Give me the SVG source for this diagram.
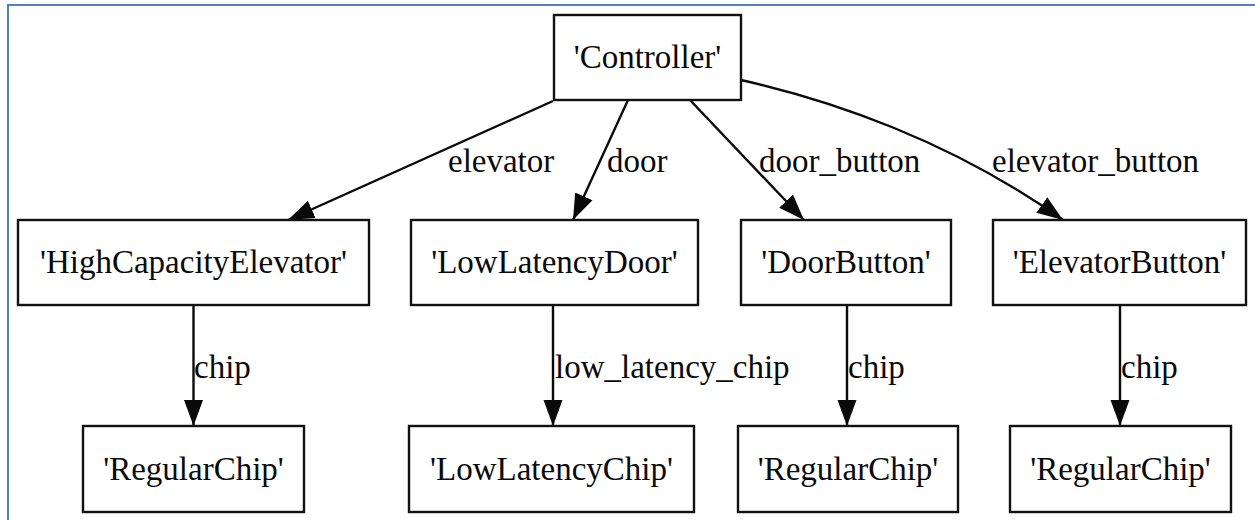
<svg xmlns="http://www.w3.org/2000/svg" width="1255" height="520" viewBox="0 0 1255 520">
  <style>
    .node rect { fill: #ffffff; stroke: #111111; stroke-width: 2.4; }
    .node text { font-family: "Liberation Serif", "Times New Roman", serif; font-size: 33px; fill: #0a0a0a; text-anchor: middle; }
    .edge { fill: none; stroke: #0a0a0a; stroke-width: 2.4; marker-end: url(#arrow); }
    .label { font-family: "Liberation Serif", "Times New Roman", serif; font-size: 33px; fill: #0a0a0a; }
    .frame { fill: none; stroke: #4f81bd; stroke-width: 2; }
  </style>
  <defs>
    <marker id="arrow" markerUnits="userSpaceOnUse" markerWidth="28" markerHeight="22" refX="26" refY="10" orient="auto">
      <path d="M0,0.5 L26,10 L0,19.5 Z" fill="#0a0a0a"/>
    </marker>
  </defs>

  <rect width="1255" height="520" fill="#ffffff"/>
  <!-- frame edge on the left and top -->
  <path class="frame" d="M8,520 V5 H1255"/>

  <!-- connectors -->
  <g id="connectors">
    <path class="edge" d="M553,101 L288,220"/>
    <path class="edge" d="M628,100 L573,220"/>
    <path class="edge" d="M690,100 L804,220"/>
    <path class="edge" d="M741,80 C830,100 950,140 1063,220"/>
    <path class="edge" d="M193.5,305 V426"/>
    <path class="edge" d="M553,305 V426"/>
    <path class="edge" d="M847,305 V426"/>
    <path class="edge" d="M1120,305 V426"/>

    <text class="label" x="448" y="172">elevator</text>
    <text class="label" x="607" y="172">door</text>
    <text class="label" x="759" y="172">door_button</text>
    <text class="label" x="992" y="172">elevator_button</text>
    <text class="label" x="194" y="378">chip</text>
    <text class="label" x="555" y="378">low_latency_chip</text>
    <text class="label" x="848" y="378">chip</text>
    <text class="label" x="1121" y="378">chip</text>
  </g>

  <!-- top level -->
  <g id="controller" class="node">
    <rect x="554" y="15" width="187" height="85"/>
    <text x="647.5" y="68">'Controller'</text>
  </g>

  <!-- second level -->
  <g id="high-capacity-elevator" class="node">
    <rect x="18" y="220" width="351" height="85"/>
    <text x="193.5" y="273">'HighCapacityElevator'</text>
  </g>
  <g id="low-latency-door" class="node">
    <rect x="411" y="220" width="287" height="85"/>
    <text x="554.5" y="273">'LowLatencyDoor'</text>
  </g>
  <g id="door-button" class="node">
    <rect x="741" y="220" width="210" height="85"/>
    <text x="846" y="273">'DoorButton'</text>
  </g>
  <g id="elevator-button" class="node">
    <rect x="993" y="220" width="253" height="85"/>
    <text x="1119.5" y="273">'ElevatorButton'</text>
  </g>

  <!-- third level -->
  <g id="regular-chip-1" class="node">
    <rect x="83" y="426" width="221" height="86"/>
    <text x="193.5" y="480">'RegularChip'</text>
  </g>
  <g id="low-latency-chip" class="node">
    <rect x="409" y="426" width="285" height="86"/>
    <text x="551.5" y="480">'LowLatencyChip'</text>
  </g>
  <g id="regular-chip-2" class="node">
    <rect x="738" y="426" width="220" height="86"/>
    <text x="848" y="480">'RegularChip'</text>
  </g>
  <g id="regular-chip-3" class="node">
    <rect x="1010" y="426" width="221" height="86"/>
    <text x="1120.5" y="480">'RegularChip'</text>
  </g>
</svg>
